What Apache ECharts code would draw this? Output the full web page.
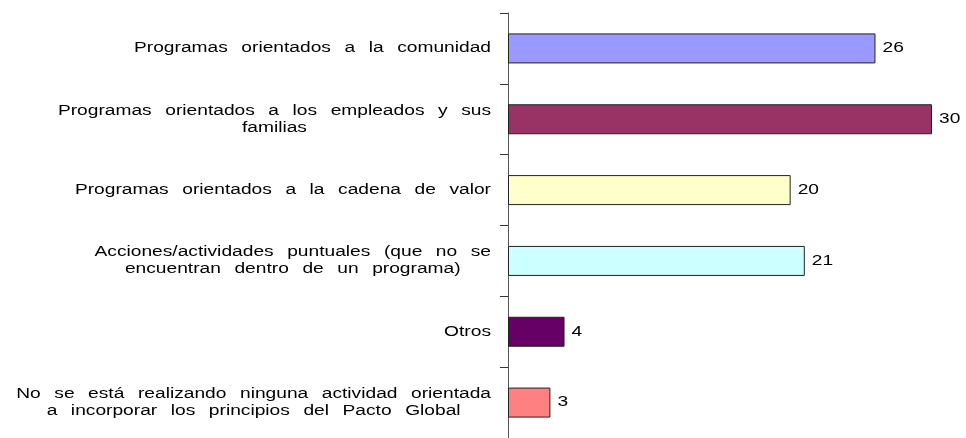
<!DOCTYPE html>
<html>
<head>
<meta charset="utf-8">
<script src="https://cdn.jsdelivr.net/npm/echarts@6/dist/echarts.min.js"></script>
<style>
html,body{margin:0;padding:0;background:#fff;}
#chart{width:966px;height:438px;}
</style>
</head>
<body>
<div id="chart"></div>
<script>
// The original renders its text horizontally stretched; reproduce that look.
(function(){
  var SX = 1.37;
  var proto = CanvasRenderingContext2D.prototype;
  var desc = Object.getOwnPropertyDescriptor(proto, 'font');
  if (desc && desc.set) {
    Object.defineProperty(proto, 'font', {
      configurable: true,
      get: function(){ return desc.get.call(this); },
      set: function(v){
        desc.set.call(this, v);
        if ('wordSpacing' in this) { this.wordSpacing = '6px'; }
      }
    });
  }
  var origFill = proto.fillText;
  proto.fillText = function(t, x, y){
    this.save();
    this.translate(x, y);
    this.scale(SX, 1);
    origFill.call(this, t, 0, 0);
    this.restore();
  };
  var origMeasure = proto.measureText;
  proto.measureText = function(t){
    var m = origMeasure.call(this, t);
    return {
      width: m.width * SX,
      actualBoundingBoxAscent: m.actualBoundingBoxAscent,
      actualBoundingBoxDescent: m.actualBoundingBoxDescent,
      actualBoundingBoxLeft: m.actualBoundingBoxLeft * SX,
      actualBoundingBoxRight: m.actualBoundingBoxRight * SX,
      fontBoundingBoxAscent: m.fontBoundingBoxAscent,
      fontBoundingBoxDescent: m.fontBoundingBoxDescent
    };
  };
})();

var categories = [
  'Programas orientados a la comunidad',
  'Programas orientados a los empleados y sus\nfamilias',
  'Programas orientados a la cadena de valor',
  'Acciones/actividades puntuales (que no se\nencuentran dentro de un programa)',
  'Otros',
  'No se está realizando ninguna actividad orientada\na incorporar los principios del Pacto Global'
];
var values = [26, 30, 20, 21, 4, 3];
var colors = ['#9999FF', '#993366', '#FFFFCC', '#CCFFFF', '#660066', '#FF8080'];

var chart = echarts.init(document.getElementById('chart'));
chart.setOption({
  animation: false,
  backgroundColor: '#ffffff',
  grid: { left: 508, top: 13, width: 424, height: 429, containLabel: false },
  xAxis: {
    type: 'value', min: 0, max: 30, show: false
  },
  yAxis: {
    type: 'category',
    inverse: true,
    data: categories,
    axisLine: { show: true, lineStyle: { color: '#555555', width: 1 } },
    axisTick: { show: true, alignWithLabel: false, length: 8, inside: false, lineStyle: { color: '#333333' } },
    splitLine: { show: false },
    axisLabel: {
      margin: 17,
      color: '#000000',
      fontFamily: 'Liberation Sans',
      fontSize: 14,
      lineHeight: 17,
      formatter: function (v) {
        return v.split('\n').map(function (s) { return '{c|' + s + '}'; }).join('\n');
      },
      rich: {
        c: { align: 'center', color: '#000000', fontFamily: 'Liberation Sans', fontSize: 14, lineHeight: 17 }
      }
    }
  },
  series: [{
    type: 'bar',
    barWidth: 30,
    data: values.map(function (v, i) {
      return { value: v, itemStyle: { color: colors[i] } };
    }),
    itemStyle: { borderColor: '#222222', borderWidth: 1 },
    label: {
      show: true,
      position: 'right',
      distance: 7,
      color: '#000000',
      fontFamily: 'Liberation Sans',
      fontSize: 14
    }
  }]
});
</script>
</body>
</html>
